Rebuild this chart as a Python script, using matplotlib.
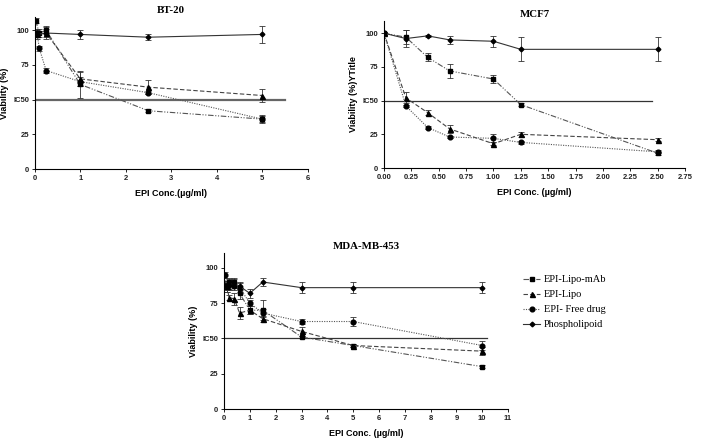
import numpy as np
import matplotlib
matplotlib.use("Agg")
import matplotlib.pyplot as plt
from matplotlib.lines import Line2D

# -------------------------
# Data
# -------------------------

series_names = ["EPI-Lipo-mAb", "EPI-Lipo", "EPI- Free drug", "Phospholipoid"]

# BT-20
bt_mab_x = [0.02, 0.1, 0.25, 1, 2.5, 5]
bt_mab_y = [107, 98, 100, 61, 42, 36]
bt_mab_e = [2, 3, 3, 10, 1, 3]
bt_lipo_x = [0.05, 0.25, 1, 2.5, 5]
bt_lipo_y = [97, 98, 65, 59, 53]
bt_lipo_e = [3, 3, 5, 5, 5]
bt_free_x = [0.05, 0.1, 0.25, 1, 2.5, 5]
bt_free_y = [98, 87, 71, 63, 55, 36]
bt_free_e = [3, 2, 2, 3, 1, 2]
bt_phos_x = [0.05, 0.25, 1, 2.5, 5]
bt_phos_y = [97, 98, 97, 95, 97]
bt_phos_e = [2, 4, 3, 2, 6]

# MCF7
mcf_x = [0, 0.2, 0.4, 0.6, 1.0, 1.25, 2.5]
mcf_mab_y = [100, 97, 82, 72, 66, 47, 11]
mcf_mab_e = [1, 5, 3, 5, 3, 1, 1]
mcf_lipo_y = [100, 52, 41, 29, 18, 25, 21]
mcf_lipo_e = [1, 4, 2, 3, 1, 2, 1]
mcf_free_y = [100, 46, 30, 23, 22, 19, 12]
mcf_free_e = [1, 1, 1, 1, 3, 1, 1]
mcf_phos_y = [100, 96, 98, 95, 94, 88, 88]
mcf_phos_e = [1, 6, 1, 3, 4, 9, 9]

# MDA-MB-453
mda_x = [0.1, 0.2, 0.4, 0.6, 1, 1.5, 3, 5, 10]
mda_mab_y = [88, 90, 90, 82, 70, 70, 51, 45, 30]
mda_mab_e = [3, 3, 3, 4, 3, 7, 1, 1, 1]
mda_lipo_y = [87, 79, 78, 68, 70, 64, 55, 45, 41]
mda_lipo_e = [3, 2, 4, 4, 3, 2, 3, 1, 3]
mda_free_x = [0.05, 0.1, 0.2, 0.4, 0.6, 1, 1.5, 3, 5, 10]
mda_free_y = [95, 87, 88, 87, 86, 75, 68, 62, 62, 45]
mda_free_e = [2, 4, 4, 3, 3, 2, 3, 2, 3, 3]
mda_phos_y = [87, 88, 89, 87, 82, 90, 86, 86, 86]
mda_phos_e = [4, 3, 3, 3, 3, 3, 4, 4, 4]

# -------------------------
# Styles
# -------------------------

styles = {
    "EPI-Lipo-mAb": dict(marker="s", ms=3.2, ls=(0, (5, 1.5, 1, 1.5, 1, 1.5)), color="#555555"),
    "EPI-Lipo": dict(marker="^", ms=3.6, ls=(0, (4, 2)), color="#444444"),
    "EPI- Free drug": dict(marker="o", ms=3.4, ls=(0, (1, 1.2)), color="#555555"),
    "Phospholipoid": dict(marker="D", ms=2.4, ls="-", color="#333333"),
}

SANS = "Liberation Sans"
SERIF = "Liberation Serif"


def draw(ax, name, x, y, e):
    st = styles[name]
    ax.errorbar(x, y, yerr=e, color=st["color"], ls=st["ls"], lw=0.8,
                marker=st["marker"], ms=st["ms"], mfc="black", mec="black",
                ecolor="#333333", elinewidth=0.6, capsize=2, capthick=0.6,
                label=name)


def style_axes(ax, title, xlabel, ylabel, xticks, xlim, ic_end, xfmt, ylim_top):
    for s in ["top", "right"]:
        ax.spines[s].set_visible(False)
    ax.spines["left"].set_linewidth(0.8)
    ax.spines["bottom"].set_linewidth(0.8)
    ax.set_xlim(*xlim)
    ax.set_ylim(0, ylim_top)
    ax.set_xticks(xticks)
    ax.set_xticklabels([xfmt.format(t) for t in xticks])
    ax.set_yticks([0, 25, 50, 75, 100])
    ax.set_yticklabels(["0", "25", "IC50", "75", "100"])
    ax.tick_params(length=2.5, width=0.6, labelsize=5.5, pad=1.5)
    for lab in ax.get_xticklabels() + ax.get_yticklabels():
        lab.set_fontfamily(SANS)
        lab.set_fontweight("bold")
        lab.set_color("#222222")
    ax.plot([xlim[0], ic_end], [50, 50], color="#333333", lw=0.9, zorder=1)
    ax.set_title(title, fontfamily=SERIF, fontweight="bold", fontsize=7.8, pad=3)
    ax.set_xlabel(xlabel, fontfamily=SANS, fontweight="bold", fontsize=6.5, labelpad=5)
    ax.set_ylabel(ylabel, fontfamily=SANS, fontweight="bold", fontsize=6.5, labelpad=3)


fig = plt.figure(figsize=(7.09, 4.38), dpi=100)

# BT-20
ax1 = fig.add_axes([0.049, 0.614, 0.385, 0.347])
draw(ax1, "EPI-Lipo-mAb", bt_mab_x, bt_mab_y, bt_mab_e)
draw(ax1, "EPI-Lipo", bt_lipo_x, bt_lipo_y, bt_lipo_e)
draw(ax1, "EPI- Free drug", bt_free_x, bt_free_y, bt_free_e)
draw(ax1, "Phospholipoid", bt_phos_x, bt_phos_y, bt_phos_e)
style_axes(ax1, "BT-20", "EPI Conc.(µg/ml)", "Viability (%)",
           [0, 1, 2, 3, 4, 5, 6], (0, 6), 5.5, "{:g}", 109.5)
ax1.lines[-1].set_linewidth(1.6)
ax1.lines[-1].set_color("#666666")

# MCF7
ax2 = fig.add_axes([0.5416, 0.6164, 0.4245, 0.3356])
draw(ax2, "EPI-Lipo-mAb", mcf_x, mcf_mab_y, mcf_mab_e)
draw(ax2, "EPI-Lipo", mcf_x, mcf_lipo_y, mcf_lipo_e)
draw(ax2, "EPI- Free drug", mcf_x, mcf_free_y, mcf_free_e)
draw(ax2, "Phospholipoid", mcf_x, mcf_phos_y, mcf_phos_e)
style_axes(ax2, "MCF7", "EPI Conc. (µg/ml)", "Viability (%)YTitle",
           list(np.arange(0, 2.76, 0.25)), (0, 2.75), 2.45, "{:.2f}", 109)

# MDA-MB-453
ax3 = fig.add_axes([0.316, 0.0662, 0.4006, 0.356])
draw(ax3, "EPI-Lipo-mAb", mda_x, mda_mab_y, mda_mab_e)
draw(ax3, "EPI-Lipo", mda_x, mda_lipo_y, mda_lipo_e)
draw(ax3, "EPI- Free drug", mda_free_x, mda_free_y, mda_free_e)
draw(ax3, "Phospholipoid", mda_x, mda_phos_y, mda_phos_e)
style_axes(ax3, "MDA-MB-453", "EPI Conc. (µg/ml)", "Viability (%)",
           list(range(0, 12)), (0, 11), 10.2, "{:g}", 110.5)

handles = [Line2D([], [], color=styles[n]["color"], ls=styles[n]["ls"], lw=0.8,
                  marker=styles[n]["marker"], ms=styles[n]["ms"],
                  mfc="black", mec="black") for n in series_names]
fig.legend(handles, series_names, loc="upper left", bbox_to_anchor=(0.738, 0.372),
           frameon=False, prop={"family": SERIF, "size": 7.5},
           handlelength=1.6, handletextpad=0.4, labelspacing=0.55,
           borderaxespad=0, borderpad=0)

fig.savefig("out.png", dpi=100)
